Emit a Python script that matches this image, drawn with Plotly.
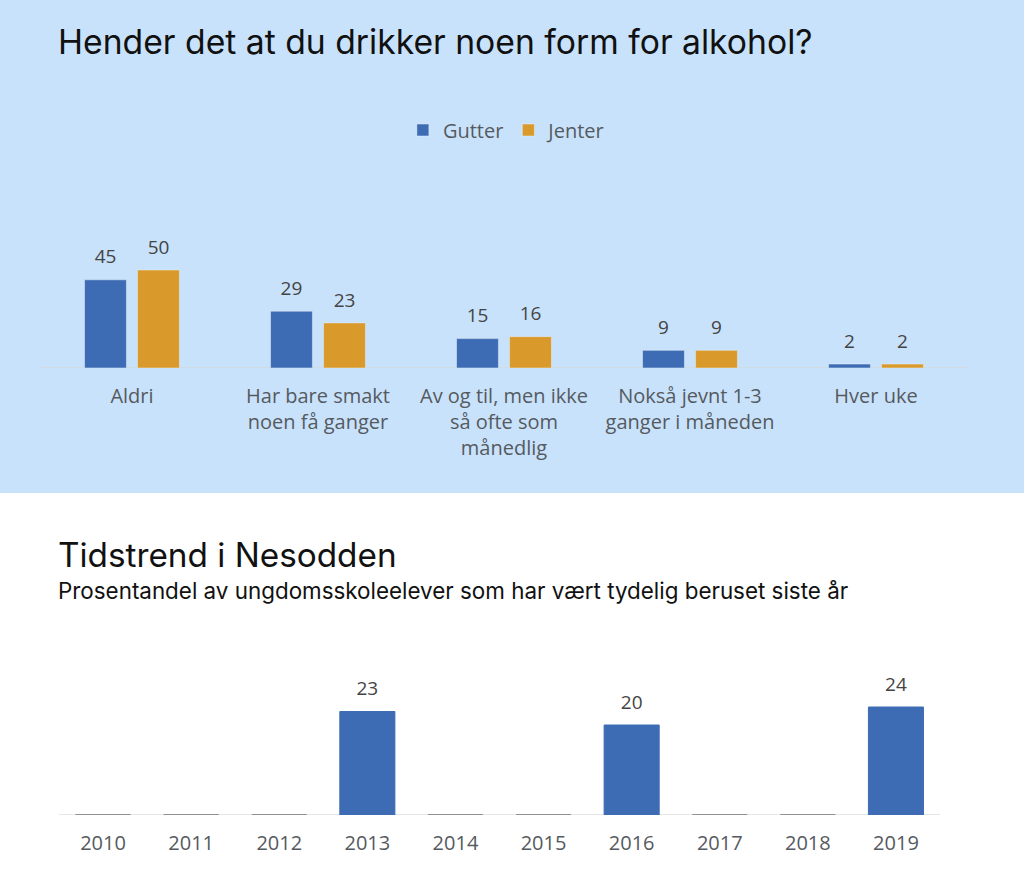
import plotly.graph_objects as go

# ---- data ----
categories = ["Aldri", "Har bare smakt<br>noen få ganger", "Av og til, men ikke<br>så ofte som<br>månedlig",
              "Nokså jevnt 1-3<br>ganger i måneden", "Hver uke"]
gutter = [45, 29, 15, 9, 2]
jenter = [50, 23, 16, 9, 2]

years = ["2010", "2011", "2012", "2013", "2014", "2015", "2016", "2017", "2018", "2019"]
beruset = [0, 0, 0, 23, 0, 0, 20, 0, 0, 24]

title_top = "Hender det at du drikker noen form for alkohol?"
title_bottom = "Tidstrend i Nesodden"
subtitle_bottom = "Prosentandel av ungdomsskoleelever som har vært tydelig beruset siste år"

BLUE = "#3D6CB4"
ORANGE = "#D99A2B"
BG = "#C9E2FB"
W, H = 1024, 877
TICKFONT = dict(size=20, color="#555a60", family="Open Sans")
LABELFONT = dict(size=19, color="#444444", family="Open Sans")


def fy(px):
    return 1 - px / H


def fx(px):
    return px / W


fig = go.Figure()
for name, vals, col in [("Gutter", gutter, BLUE), ("Jenter", jenter, ORANGE)]:
    fig.add_trace(go.Bar(x=categories, y=vals, name=name, marker_color=col,
                         offsetgroup=name, xaxis="x", yaxis="y"))
for name, vals in [("Gutter", gutter), ("Jenter", jenter)]:
    fig.add_trace(go.Scatter(x=categories, y=vals, mode="markers+text", showlegend=False,
                             offsetgroup=name, text=[str(v) for v in vals],
                             textposition="top center", textfont=LABELFONT,
                             marker=dict(size=17, opacity=0), hoverinfo="skip",
                             cliponaxis=False, xaxis="x", yaxis="y"))

fig.add_trace(go.Bar(x=years, y=beruset, name="Beruset", showlegend=False, width=0.625,
                     marker=dict(color=BLUE,
                                 line=dict(color=[BLUE if v else "#777777" for v in beruset], width=1)),
                     xaxis="x2", yaxis="y2"))
fig.add_trace(go.Scatter(x=years, y=beruset, mode="markers+text", showlegend=False,
                         text=[str(v) if v else "" for v in beruset],
                         textposition="top center", textfont=LABELFONT,
                         marker=dict(size=17, opacity=0), hoverinfo="skip",
                         cliponaxis=False, xaxis="x2", yaxis="y2"))

fig.update_layout(
    width=W, height=H,
    margin=dict(l=0, r=0, t=0, b=0),
    paper_bgcolor="white", plot_bgcolor="rgba(0,0,0,0)",
    barmode="group", bargap=0.43, bargroupgap=0.21,
    scattermode="group", scattergap=0.43,
    font=dict(family="Open Sans", color="#555555"),
    showlegend=True,
    legend=dict(orientation="h", x=0.495, xanchor="center", y=fy(130), yanchor="middle",
                font=dict(size=20, color="#555a60", family="Open Sans"), bgcolor="rgba(0,0,0,0)",
                itemwidth=30, traceorder="normal"),
    xaxis=dict(domain=[fx(39), fx(969)], anchor="y", showgrid=False, zeroline=False,
               showline=False, ticks="outside", ticklen=10, tickcolor="rgba(0,0,0,0)",
               tickfont=TICKFONT, fixedrange=True),
    yaxis=dict(domain=[fy(368), fy(172)], range=[0, 100], visible=False),
    xaxis2=dict(domain=[fx(59), fx(940)], anchor="y2", showgrid=False, zeroline=False,
                showline=False, ticks="outside", ticklen=10, tickcolor="rgba(0,0,0,0)",
                tickfont=TICKFONT),
    yaxis2=dict(domain=[fy(815), fy(680)], range=[0, 30], visible=False),
    shapes=[
        dict(type="rect", xref="paper", yref="paper", x0=0, x1=1, y0=fy(493), y1=1,
             fillcolor=BG, line=dict(width=0), layer="below"),
        dict(type="line", xref="x domain", yref="y", x0=0, x1=1, y0=0, y1=0,
             line=dict(color="#D8D4C8", width=1), layer="below"),
        dict(type="line", xref="x2 domain", yref="y2", x0=0, x1=1, y0=0, y1=0,
             line=dict(color="#CCCCCC", width=1), layer="below"),
    ],
    annotations=[
        dict(text=title_top, xref="paper", yref="paper", x=fx(56), y=fy(42), xanchor="left",
             yanchor="middle", showarrow=False, font=dict(size=33.7, color="#111111", family="Inter")),
        dict(text=title_bottom, xref="paper", yref="paper", x=fx(56), y=fy(555), xanchor="left",
             yanchor="middle", showarrow=False, font=dict(size=33.3, color="#111111", family="Inter")),
        dict(text=subtitle_bottom, xref="paper", yref="paper", x=fx(56), y=fy(590), xanchor="left",
             yanchor="middle", showarrow=False, font=dict(size=22.4, color="#111111", family="Inter")),
    ],
)

fig.write_html("out.html")
